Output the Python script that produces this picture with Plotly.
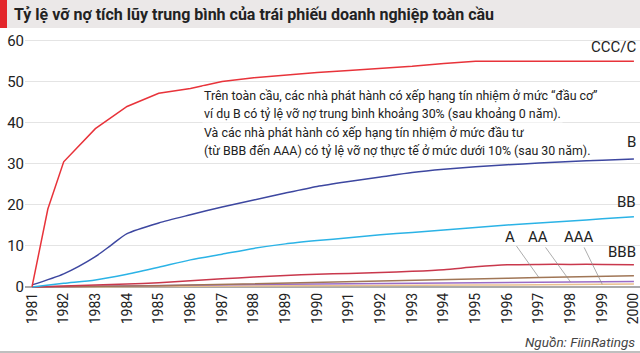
import plotly.graph_objects as go

years = list(range(1981, 2001))
ccc_x = [1981, 1981.5] + list(range(1982, 2001))
ccc = [0, 19, 30.5, 38.6, 44.0, 47.2, 48.4, 50.1, 51.0, 51.7, 52.3, 52.8, 53.3, 53.8, 54.5, 55.0, 55.0, 55.0, 55.0, 55.0, 55.0]
b_x = [1981, 1982, 1983, 1983.5, 1984, 1985, 1986, 1987, 1988, 1989, 1990,
       1991, 1992, 1993, 1994, 1995, 1996, 1997, 1998, 1999, 2000]
b = [0.5, 3.2, 7.4, 10.2, 13.0, 15.6, 17.6, 19.5, 21.2, 22.9, 24.5,
     25.7, 26.8, 27.9, 28.7, 29.3, 29.8, 30.2, 30.6, 30.9, 31.2]
bb = [0, 0.9, 1.7, 3.1, 4.8, 6.6, 8.0, 9.4, 10.5, 11.3,
      12.0, 12.7, 13.3, 13.9, 14.5, 15.1, 15.6, 16.1, 16.6, 17.1]
bbb = [0, 0.25, 0.45, 0.7, 1.0, 1.5, 2.0, 2.4, 2.8, 3.1,
       3.3, 3.5, 3.8, 4.2, 4.9, 5.4, 5.5, 5.5, 5.5, 5.4]
a = [0, 0.05, 0.1, 0.2, 0.3, 0.45, 0.6, 0.75, 0.9, 1.05,
     1.2, 1.35, 1.55, 1.75, 1.95, 2.1, 2.3, 2.45, 2.6, 2.75]
aa = [0, 0.1, 0.2, 0.35, 0.45, 0.5, 0.55, 0.6, 0.65, 0.7,
      0.75, 0.8, 0.85, 0.9, 1.0, 1.1, 1.15, 1.2, 1.25, 1.3]
aaa = [0, 0.02, 0.05, 0.08, 0.1, 0.12, 0.15, 0.18, 0.2, 0.22,
       0.25, 0.3, 0.35, 0.4, 0.45, 0.5, 0.55, 0.6, 0.65, 0.7]

title = "Tỷ lệ vỡ nợ tích lũy trung bình của trái phiếu doanh nghiệp toàn cầu"
note_lines = [
    "Trên toàn cầu, các nhà phát hành có xếp hạng tín nhiệm ở mức “đầu cơ”",
    "ví dụ B có tỷ lệ vỡ nợ trung bình khoảng 30% (sau khoảng 0 năm).",
    "Và các nhà phát hành có xếp hạng tín nhiệm ở mức đầu tư",
    "(từ BBB đến AAA) có tỷ lệ vỡ nợ thực tế ở mức dưới 10% (sau 30 năm).",
]
source = "Nguồn: FiinRatings"

FONT = "Roboto, Liberation Sans, sans-serif"
TXT = "#222222"

C_CCC = "#e8333a"
C_B = "#3d47a0"
C_BB = "#2bb3e6"
C_BBB = "#c9384c"
C_A = "#a07656"
C_AA = "#9a6cc6"
C_AAA = "#eac08e"

W, H = 640, 353
L, R, T, B_ = 25, 0, 31, 64
pw, ph = W - L - R, H - T - B_
PXY = 4.1          # pixels per y unit
PXX = 31.68        # pixels per year


def px_x(x):
    return (x - L) / pw


def px_y(y):
    return (H - B_ - y) / ph


def dx(px):  # pixel x -> year
    return 1981 + (px - 32) / PXX


def dy(py):  # pixel y -> value
    return (287 - py) / PXY


fig = go.Figure()
for xs, ys, col, shape in [
    (years, aaa, C_AAA, "linear"),
    (years, aa, C_AA, "linear"),
    (years, a, C_A, "linear"),
    (years, bbb, C_BBB, "spline"),
    (years, bb, C_BB, "spline"),
    (b_x, b, C_B, "spline"),
    (ccc_x, ccc, C_CCC, "linear"),
]:
    fig.add_trace(go.Scatter(x=xs, y=ys, mode="lines",
                             line=dict(color=col, width=1.5, shape=shape, smoothing=0.7),
                             hoverinfo="skip", showlegend=False))

lab_font = dict(family=FONT, size=15, color=TXT)
anns = []
# end labels
for txt, val, yshift in [("CCC/C", ccc[-1], 3), ("B", b[-1], 6), ("BB", bb[-1], 4), ("BBB", bbb[-1], 2)]:
    anns.append(dict(x=dx(638), y=val, xref="x", yref="y", text=txt, showarrow=False,
                     xanchor="right", yanchor="bottom", yshift=yshift, font=lab_font))
# leader labels
for txt, series, idx, lx in [("A", a, 16, 510), ("AA", aa, 17, 538), ("AAA", aaa, 18, 579)]:
    anns.append(dict(x=years[idx], y=series[idx], xref="x", yref="y",
                     ax=dx(lx), ay=dy(237), axref="x", ayref="y",
                     text=txt, showarrow=True, arrowhead=0, arrowwidth=0.7,
                     arrowcolor="#8a8a8a", standoff=0, startstandoff=0,
                     font=lab_font))
# note lines (each with white background)
for i, (line, py) in enumerate(zip(note_lines, [95.5, 114, 132.5, 151])):
    anns.append(dict(x=dx(202), y=dy(py), xref="x", yref="y", text=line, showarrow=False,
                     xanchor="left", yanchor="middle", align="left",
                     bgcolor="white", borderpad=1,
                     font=dict(family=FONT, size=12.4, color=TXT)))
# title
anns.append(dict(x=px_x(12), y=px_y(14), xref="paper", yref="paper",
                 text="<b>" + title + "</b>", showarrow=False,
                 xanchor="left", yanchor="middle",
                 font=dict(family=FONT, size=16, color=TXT)))
# source
anns.append(dict(x=px_x(637), y=px_y(342), xref="paper", yref="paper",
                 text="<i>" + source + "</i>", showarrow=False,
                 xanchor="right", yanchor="middle",
                 font=dict(family=FONT, size=13.5, color="#444444")))

shapes = [
    dict(type="rect", xref="paper", yref="paper", x0=px_x(0), x1=px_x(640),
         y0=px_y(28), y1=px_y(0), fillcolor="#ebe8e8", line=dict(width=0), layer="below"),
    dict(type="rect", xref="paper", yref="paper", x0=px_x(0), x1=px_x(7),
         y0=px_y(28), y1=px_y(0), fillcolor="#e3262b", line=dict(width=0), layer="below"),
    dict(type="line", xref="paper", yref="paper", x0=px_x(0), x1=px_x(640),
         y0=px_y(352), y1=px_y(352), line=dict(color="#aaaaaa", width=1.5)),
]

fig.update_layout(
    width=W, height=H,
    margin=dict(l=L, r=R, t=T, b=B_, pad=0),
    paper_bgcolor="white", plot_bgcolor="white",
    annotations=anns, shapes=shapes,
    xaxis=dict(range=[1981 - 7 / PXX, 1981 + (640 - 32) / PXX],
               tickvals=years, ticktext=[str(y) for y in years], tickangle=-90,
               showgrid=False, zeroline=False, showline=False, ticks="",
               ticklen=0, ticklabeloverflow="allow",
               tickfont=dict(family=FONT, size=14, color=TXT)),
    yaxis=dict(range=[-0.5, 62.4], tickvals=[0, 10, 20, 30, 40, 50, 60],
               showgrid=True, gridcolor="#e4e4e4", gridwidth=1,
               zeroline=True, zerolinecolor="#aaaaaa", zerolinewidth=1.5,
               showline=False, ticks="", ticklen=0,
               tickfont=dict(family=FONT, size=15, color=TXT)),
)
fig.write_html("out.html")
